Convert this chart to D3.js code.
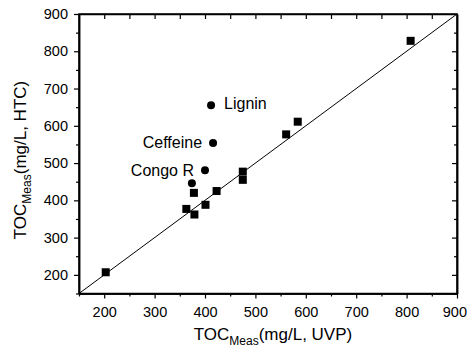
<!DOCTYPE html>
<html><head><meta charset="utf-8">
<script src="https://cdn.jsdelivr.net/npm/d3@7"></script>
<style>body{margin:0;background:#fff}svg{display:block}text{font-family:"Liberation Sans",Arial,sans-serif;fill:#000}</style>
</head><body><svg id="c" width="468" height="356"></svg>
<script>
// data
const squareX = [203, 363, 379, 401, 378, 423, 475, 475, 561, 584, 808];
const squareY = [207, 377, 362, 388, 420, 425, 477, 455, 577, 611, 828];
const circleX = [412, 416, 400, 374];
const circleY = [655, 554, 481, 446];
const circleLabels = ["Lignin", "Ceffeine", "Congo R", ""];
const xTicks = [200, 300, 400, 500, 600, 700, 800, 900];
const yTicks = [200, 300, 400, 500, 600, 700, 800, 900];
const domain = [150, 900];

const svg = d3.select("#c");
const L = 79, R = 457, T = 14, B = 293.5;
const x = d3.scaleLinear().domain(domain).range([L, R]);
const y = d3.scaleLinear().domain(domain).range([B, T]);
const minor = d3.range(150, 901, 50);

function axisStyle(g){
  g.select(".domain").attr("stroke","#000").attr("stroke-width",1.5);
  g.selectAll(".tick line").attr("stroke","#000").attr("stroke-width",1.2);
  g.selectAll("text").style("font-family","Liberation Sans, Arial, sans-serif").style("font-size","14.5px").attr("fill","#000");
}
const mt = minor.filter(v => v % 100 !== 0);
// bottom
svg.append("g").attr("transform",`translate(0,${B})`)
  .call(d3.axisBottom(x).tickValues(mt).tickSize(3).tickFormat("").tickSizeOuter(0)).call(axisStyle);
const bx = svg.append("g").attr("transform",`translate(0,${B})`)
  .call(d3.axisBottom(x).tickValues(xTicks).tickSize(5).tickPadding(8).tickSizeOuter(0)).call(axisStyle);
// keep the last label inside the picture
bx.selectAll(".tick text").filter(d => d === 900).attr("text-anchor","end").attr("dx", 9.5);
// top
svg.append("g").attr("transform",`translate(0,${T})`)
  .call(d3.axisBottom(x).tickValues(minor.filter(v=>v>150&&v<900)).tickSize(5).tickFormat("").tickSizeOuter(0)).call(axisStyle);
// left
svg.append("g").attr("transform",`translate(${L},0)`)
  .call(d3.axisLeft(y).tickValues(mt).tickSize(3).tickFormat("").tickSizeOuter(0)).call(axisStyle);
svg.append("g").attr("transform",`translate(${L},0)`)
  .call(d3.axisLeft(y).tickValues(yTicks).tickSize(5).tickPadding(6).tickSizeOuter(0)).call(axisStyle);
// right
svg.append("g").attr("transform",`translate(${R},0)`)
  .call(d3.axisLeft(y).tickValues(mt).tickSize(3).tickFormat("").tickSizeOuter(0)).call(axisStyle);
svg.append("g").attr("transform",`translate(${R},0)`)
  .call(d3.axisLeft(y).tickValues(yTicks.filter(v=>v<900)).tickSize(5).tickFormat("").tickSizeOuter(0)).call(axisStyle);
svg.append("rect").attr("x",L).attr("y",T).attr("width",R-L).attr("height",B-T)
  .attr("fill","none").attr("stroke","#000").attr("stroke-width",1.5);

// 1:1 line
svg.append("line").attr("x1",x(domain[0])).attr("y1",y(domain[0])).attr("x2",x(domain[1])).attr("y2",y(domain[1]))
  .attr("stroke","#000").attr("stroke-width",1);

// squares
const s = 8;
svg.selectAll("rect.sq").data(squareX).join("rect").attr("class","sq")
  .attr("x",(d,i)=>x(d)-s/2).attr("y",(d,i)=>y(squareY[i])-s/2).attr("width",s).attr("height",s).attr("fill","#000");
// circles
svg.selectAll("circle.pt").data(circleX).join("circle").attr("class","pt")
  .attr("cx",d=>x(d)).attr("cy",(d,i)=>y(circleY[i])).attr("r",4).attr("fill","#000");
// labels
svg.selectAll("text.lab").data(circleLabels).join("text").attr("class","lab")
  .attr("x",(d,i)=> i===0 ? x(circleX[i])+13 : x(circleX[i])-11)
  .attr("y",(d,i)=> y(circleY[i])+(i===0?4:5.5))
  .attr("text-anchor",(d,i)=> i===0 ? "start" : "end")
  .style("font-size","16px").text(d=>d);

// axis titles
const xt = svg.append("text").attr("x",273).attr("y",340).attr("text-anchor","middle").style("font-size","17px");
xt.append("tspan").text("TOC");
xt.append("tspan").attr("dy",5).style("font-size","12px").text("Meas");
xt.append("tspan").attr("dy",-5).text("(mg/L, UVP)");
const yt = svg.append("text").attr("transform","translate(26,160) rotate(-90)").attr("text-anchor","middle").style("font-size","17px");
yt.append("tspan").text("TOC");
yt.append("tspan").attr("dy",5).style("font-size","12px").text("Meas");
yt.append("tspan").attr("dy",-5).text("(mg/L, HTC)");
</script></body></html>
